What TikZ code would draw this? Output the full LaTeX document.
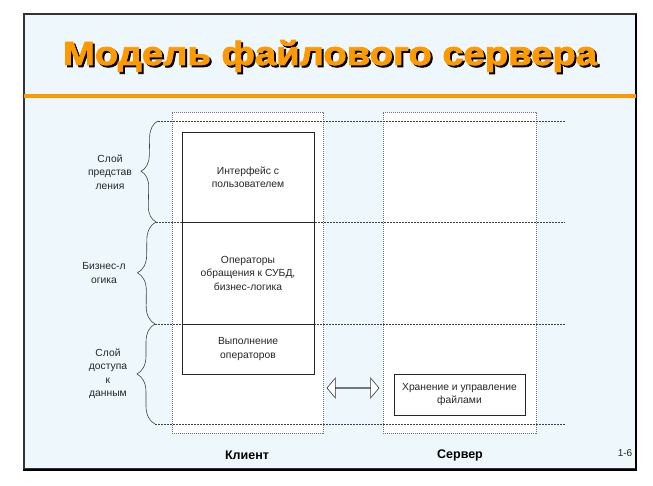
\documentclass[tikz,border=0pt]{standalone}
\usepackage{fontspec}
\setmainfont{Liberation Sans}
\newfontfamily\titlefont{Liberation Sans}[BoldFeatures={FakeBold=2.4,FakeStretch=1.14}]
\usetikzlibrary{decorations.pathreplacing,shapes.arrows}
\definecolor{bgblue}{RGB}{238,248,252}
\definecolor{orng}{RGB}{255,153,0}
\newcommand{\ttltext}{Модель файлового сервера}
\begin{document}
\begin{tikzpicture}[x=1pt,y=-1pt,
  lbl/.style={font=\fontsize{10.3}{13.5}\selectfont, align=center, text=black!85},
  colbox/.style={draw=black!55, fill=white, dash pattern=on 1.2pt off 0.8pt, line width=0.5pt, inner sep=0pt},
  hline/.style={draw=black!75, dash pattern=on 2pt off 1pt, line width=0.5pt},
  solidbox/.style={draw=black!85, fill=white, line width=0.6pt, inner sep=0pt, lbl},
  brc/.style={draw=black!75, line width=0.6pt, decorate, decoration={brace, amplitude=#1}},
  foot/.style={font=\fontsize{12.5}{14}\selectfont\bfseries}
]
\useasboundingbox (0,0) rectangle (653,486);
\fill[white] (0,0) rectangle (653,486);
\fill[bgblue] (24,14) rectangle (636,469);
\draw[line width=1.2pt, black!80] (24,14) rectangle (636,469);
\draw[line width=2.8pt, black] (636,14) -- (636,470) -- (23,470);
\draw[orng, line width=4pt] (24,96) -- (636,96);

% title with shadow
\node[anchor=base, inner sep=0pt, font=\titlefont\bfseries\fontsize{33.5}{36}\selectfont] (title) at (330,65)
  {\makebox[0pt][l]{\hspace{2pt}\raisebox{-2pt}{\textcolor{black}{\ttltext}}}\textcolor{orng}{\ttltext}};

% columns
\node[colbox, minimum width=151pt, minimum height=321pt] (client) at (247.5,272.5) {};
\node[colbox, minimum width=153pt, minimum height=321pt] (server) at (459.5,272.5) {};

% horizontal dashed lines
\coordinate (h1l) at (158,121); \coordinate (h1r) at (565,121);
\coordinate (h2l) at (156,222); \coordinate (h2r) at (565,222);
\coordinate (h3l) at (155,324); \coordinate (h3r) at (565,324);
\coordinate (h4l) at (155,424); \coordinate (h4r) at (565,424);
\draw[hline] (h1l) -- (h1r);
\draw[hline] (h2l) -- (h2r);
\draw[hline] (h3l) -- (h3r);
\draw[hline] (h4l) -- (h4r);

% client boxes
\node[solidbox, minimum width=132pt, minimum height=90pt] (b1) at (248,177) {Интерфейс с\\пользователем};
\node[solidbox, minimum width=132pt, minimum height=102pt] (b2) at (248,273) {Операторы\\обращения к СУБД,\\бизнес-логика};
\node[solidbox, minimum width=132pt, minimum height=50pt] (b3) at (248,349) {Выполнение\\операторов};

% server box
\node[solidbox, minimum width=131pt, minimum height=41pt] (sb) at (459.5,394.5) {Хранение и управление\\файлами};

% double arrow
\node[double arrow, draw=black!80, fill=white, line width=0.6pt, minimum width=20pt, minimum height=52pt,
      double arrow head extend=7pt, double arrow tip angle=100, inner sep=0pt] (arr) at (353,388) {};

% braces
\draw[brc=16pt] (h2l) -- (h1l);
\draw[brc=18pt] (h3l) -- (h2l);
\draw[brc=18pt] (h4l) -- (h3l);

% labels
\node[lbl] (l1) at (110,172) {Слой\\представ\\ления};
\node[lbl] (l2) at (104,273) {Бизнес-л\\огика};
\node[lbl] (l3) at (108,373.5) {Слой\\доступа\\к\\данным};

% footer
\node[foot] (fc) at (247,455) {Клиент};
\node[foot] (fs) at (460,455) {Сервер};
\node[font=\fontsize{10}{12}\selectfont, text=black!85] (pg) at (625,453) {1-6};
\end{tikzpicture}
\end{document}
